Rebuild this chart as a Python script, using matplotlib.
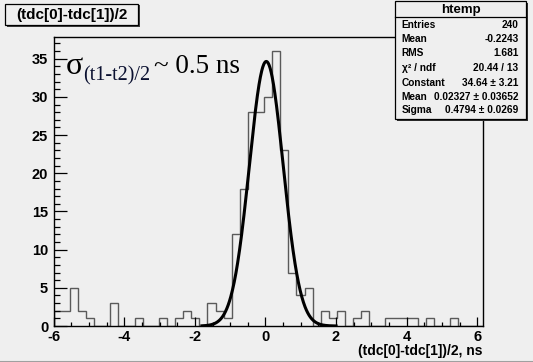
import numpy as np
import matplotlib
matplotlib.use("Agg")
import matplotlib.pyplot as plt
from matplotlib.ticker import MultipleLocator
from matplotlib.patches import Rectangle

# ---- data ----
x_min, x_max, n_bins = -6.0, 6.15, 53
counts = [2, 2, 5, 2, 1, 0, 0, 3, 0, 0,
          1, 0, 0, 1, 0, 1, 2, 1, 0, 3,
          2, 1, 12, 18, 28, 28, 30, 36, 23, 7,
          4, 5, 0, 2, 1, 2, 0, 1, 2, 0,
          0, 1, 1, 1, 1, 0, 1, 0, 0, 1,
          0, 0, 0]
fit_const, fit_mean, fit_sigma = 34.64, 0.02327, 0.4794
fit_range = (-1.8, 2.0)
title = "(tdc[0]-tdc[1])/2"
xlabel = "(tdc[0]-tdc[1])/2, ns"
stats_name = "htemp"
stats_rows = [("Entries", "240"), ("Mean", "-0.2243"), ("RMS", "1.681"),
              ("χ² / ndf", "20.44 / 13"), ("Constant", "34.64 ± 3.21"),
              ("Mean", "0.02327 ± 0.03652"), ("Sigma", "0.4794 ± 0.0269")]
x_ticks = [-6, -4, -2, 0, 2, 4, 6]
y_ticks = [0, 5, 10, 15, 20, 25, 30, 35]

# ---- figure ----
W, H = 533, 362
bg = "#efefef"
fig = plt.figure(figsize=(W / 100, H / 100), dpi=100, facecolor=bg)
L, R, B, T = 53.7, 482.5, 326, 37.3
ax = fig.add_axes([L / W, 1 - B / H, (R - L) / W, (B - T) / H], facecolor=bg)

edges = np.linspace(x_min, x_max, n_bins + 1)
ax.stairs(counts, edges, color="#5a5a5a", lw=1.0, baseline=0)

xf = np.linspace(fit_range[0], fit_range[1], 400)
yf = fit_const * np.exp(-0.5 * ((xf - fit_mean) / fit_sigma) ** 2)
ax.plot(xf, yf, color="black", lw=2.2)

ax.set_xlim(x_min, x_max)
ax.set_ylim(0, 1.05 * max(counts))
for s in ax.spines.values():
    s.set_color("black")
    s.set_linewidth(1.0)

bold = dict(family="Liberation Sans", weight="bold")
ax.set_xticks(x_ticks)
ax.set_yticks(y_ticks)
ax.xaxis.set_minor_locator(MultipleLocator(0.5))
ax.yaxis.set_minor_locator(MultipleLocator(1))
ax.tick_params(axis="x", which="major", direction="in", length=8.7 * 0.72, width=0.9, pad=3)
ax.tick_params(axis="x", which="minor", direction="in", length=4.3 * 0.72, width=0.9)
ax.tick_params(axis="y", which="major", direction="in", length=12.9 * 0.72, width=0.9, pad=4)
ax.tick_params(axis="y", which="minor", direction="in", length=6.4 * 0.72, width=0.9)
ax.set_xticklabels([str(v) for v in x_ticks], fontsize=10.5, **bold)
ax.set_yticklabels([str(v) for v in y_ticks], fontsize=10.5, **bold)

# x label at right
fig.text(R / W, 1 - 351 / H, xlabel, ha="right", va="center", fontsize=10, **bold)

# title box
fig.patches.append(Rectangle((7 / W, 1 - 27 / H), 133 / W, 22 / H, transform=fig.transFigure,
                             facecolor="#404040", edgecolor="none", zorder=1))
fig.patches.append(Rectangle((5 / W, 1 - 25 / H), 133 / W, 21 / H, transform=fig.transFigure,
                             facecolor=bg, edgecolor="black", lw=0.9, zorder=2))
fig.text(71.5 / W, 1 - 14.5 / H, title, ha="center", va="center", fontsize=11, zorder=3, **bold)

# stats box
bx0, bx1, by0, by1 = 395, 526, 1, 118.5
fig.patches.append(Rectangle(((bx0 + 2) / W, 1 - (by1 + 2) / H), (bx1 - bx0) / W, (by1 - by0) / H,
                             transform=fig.transFigure, facecolor="#303030", edgecolor="none", zorder=4))
fig.patches.append(Rectangle((bx0 / W, 1 - by1 / H), (bx1 - bx0) / W, (by1 - by0) / H,
                             transform=fig.transFigure, facecolor=bg, edgecolor="black", lw=0.9, zorder=5))
fig.add_artist(plt.Line2D([bx0 / W, bx1 / W], [1 - 16.5 / H, 1 - 16.5 / H], color="black", lw=0.9,
                          transform=fig.transFigure, zorder=6))
fig.text((bx0 + bx1) / 2 / W, 1 - 9.5 / H, stats_name, ha="center", va="center", fontsize=9.5, zorder=7, **bold)
row_y = [25, 39, 52.7, 68, 82.7, 96.7, 110]
for (lab, val), yy in zip(stats_rows, row_y):
    fig.text(401.5 / W, 1 - yy / H, lab, ha="left", va="center", fontsize=7.3, zorder=7,
             family=["Liberation Sans", "DejaVu Sans"], weight="bold")
    fig.text(518.5 / W, 1 - yy / H, val, ha="right", va="center", fontsize=7.3, zorder=7,
             family=["Liberation Sans", "DejaVu Sans"], weight="bold")

# sigma annotation
serif = "Liberation Serif"
fig.text(65.5 / W, 1 - 73.5 / H, "σ", ha="left", va="baseline", fontsize=23, family=serif)
fig.text(83 / W, 1 - 80 / H, "(t1-t2)/2", ha="left", va="baseline", fontsize=14.5, family=serif,
         color="#0a1030")
fig.text(154 / W, 1 - 73 / H, "~ 0.5 ns", ha="left", va="baseline", fontsize=19.5, family=serif)

# bottom border line
fig.add_artist(plt.Line2D([0, 1], [0.5 / H, 0.5 / H], color="#a0a0a0", lw=1.5, transform=fig.transFigure))

fig.savefig("out.png", dpi=100, facecolor=bg)
